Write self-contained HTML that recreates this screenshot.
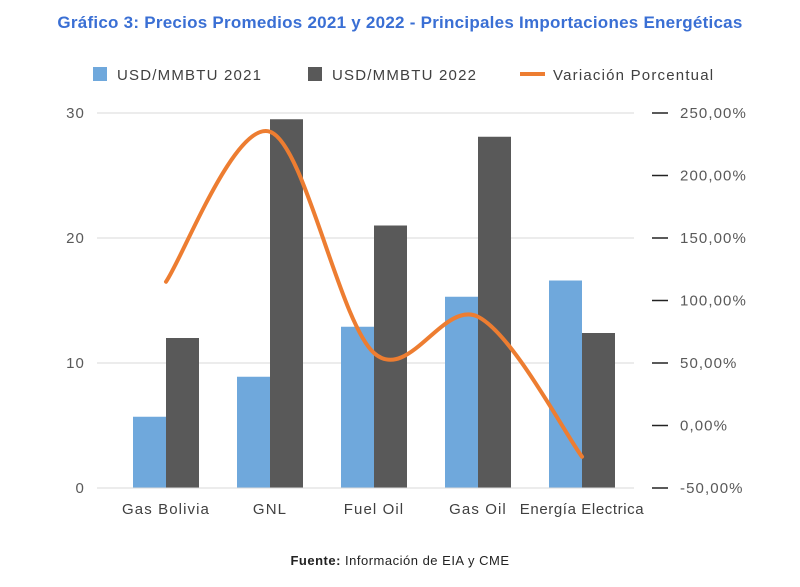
<!DOCTYPE html>
<html><head><meta charset="utf-8"><style>
body{margin:0;background:#fff;width:800px;height:582px;overflow:hidden;font-family:"Liberation Sans",sans-serif}
</style></head><body>
<svg id="c" width="800" height="582" xmlns="http://www.w3.org/2000/svg">
<text x="400" y="28" text-anchor="middle" font-size="17" font-weight="bold" fill="#3a6fd4" letter-spacing="0.25">Gráfico 3: Precios Promedios 2021 y 2022 - Principales Importaciones Energéticas</text>
<g font-size="15" letter-spacing="1.2">
<rect x="93" y="67" width="14" height="14" fill="#6fa8dc"/>
<text x="117" y="80" fill="#404040">USD/MMBTU 2021</text>
<rect x="308" y="67" width="14" height="14" fill="#595959"/>
<text x="332" y="80" fill="#404040">USD/MMBTU 2022</text>
<line x1="520" y1="74" x2="545" y2="74" stroke="#ed7d31" stroke-width="4"/>
<text x="553" y="80" fill="#404040">Variación Porcentual</text>
</g>
<g id="g" font-size="15" letter-spacing="1.1"></g>
<text x="400" y="565" text-anchor="middle" font-size="13" letter-spacing="0.5" fill="#222"><tspan font-weight="bold">Fuente:</tspan> Información de EIA y CME</text>
</svg>
<script>
const categories=["Gas Bolivia","GNL","Fuel Oil","Gas Oil","Energía Electrica"];
const values2021=[5.7,8.9,12.9,15.3,16.6];
const values2022=[12.0,29.5,21.0,28.1,12.4];
const variacion=[115,235,58,87,-25];
const leftTicks=[0,10,20,30];
const rightTicks=[-50,0,50,100,150,200,250];
const NS="http://www.w3.org/2000/svg";
const g=document.getElementById('g');
const yL=v=>488-v*12.5;
const yR=p=>488-(p+50)*1.25;
const xC=i=>166+i*104;
function mk(t,a){const e=document.createElementNS(NS,t);for(const k in a)e.setAttribute(k,a[k]);g.appendChild(e);return e;}
leftTicks.forEach(v=>{
 if(v>0){const l=mk('line',{x1:97,x2:634,y1:yL(v),y2:yL(v),stroke:'#d9d9d9','stroke-width':1});
 
 }
 const t=mk('text',{x:85,y:yL(v)+5,'text-anchor':'end',fill:'#595959'});t.textContent=v;
 
 
});
rightTicks.forEach(p=>{
 const l=mk('line',{x1:652,x2:668,y1:yR(p),y2:yR(p),stroke:'#222','stroke-width':1.5});
 
 
 const t=mk('text',{x:680,y:yR(p)+5,fill:'#595959'});t.textContent=p.toFixed(2).replace('.',',')+'%';
 
 
});
categories.forEach((c,i)=>{
 const b1=mk('rect',{x:xC(i)-33,y:yL(values2021[i]),width:33,height:values2021[i]*12.5,fill:'#6fa8dc'});
 
 
 const b2=mk('rect',{x:xC(i),y:yL(values2022[i]),width:33,height:values2022[i]*12.5,fill:'#595959'});
 
 
 const t=mk('text',{x:xC(i),y:514,'text-anchor':'middle',fill:'#404040'});t.textContent=c;
 if(i===4)t.setAttribute('letter-spacing','0.6');
 
 
});
const ax=mk('line',{x1:97,x2:634,y1:488,y2:488,stroke:'#d9d9d9','stroke-width':1});


const pts=variacion.map((p,i)=>[xC(i),yR(p)]);
let d='M'+pts[0][0]+','+pts[0][1];
for(let i=0;i<pts.length-1;i++){
 const p0=pts[i-1]||pts[i],p1=pts[i],p2=pts[i+1],p3=pts[i+2]||p2;
 const c1=[p1[0]+(p2[0]-p0[0])/6,p1[1]+(p2[1]-p0[1])/6];
 const c2=[p2[0]-(p3[0]-p1[0])/6,p2[1]-(p3[1]-p1[1])/6];
 d+=` C${c1[0]},${c1[1]} ${c2[0]},${c2[1]} ${p2[0]},${p2[1]}`;
}
const ln=mk('path',{d:d,fill:'none',stroke:'#ed7d31','stroke-width':4,'stroke-linecap':'round'});


</script>
</body></html>
